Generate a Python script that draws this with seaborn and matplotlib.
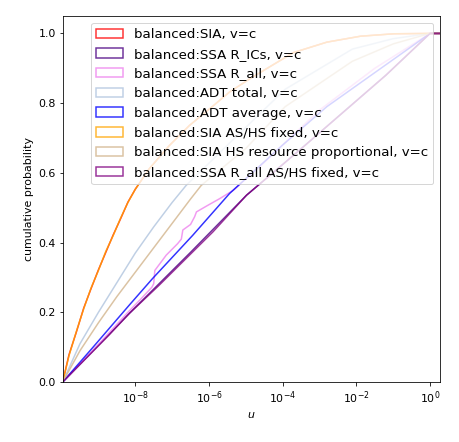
import numpy as np
import pandas as pd
import seaborn as sns
import matplotlib
matplotlib.use('Agg')
import matplotlib.pyplot as plt
from matplotlib.patches import Patch
from matplotlib.ticker import NullLocator

# series labels and colours
labels = ['balanced:SIA, v=c', 'balanced:SSA R_ICs, v=c', 'balanced:SSA R_all, v=c',
          'balanced:ADT total, v=c', 'balanced:ADT average, v=c',
          'balanced:SIA AS/HS fixed, v=c', 'balanced:SIA HS resource proportional, v=c',
          'balanced:SSA R_all AS/HS fixed, v=c']
colors = ['red', 'indigo', 'violet', 'lightsteelblue', 'blue', 'orange', 'tan', 'purple']

# values: log10(u) and cumulative probability
sia_logu = [-9.97, -9.8, -9.6, -9.4, -9.2, -9.0, -8.8, -8.6, -8.4, -8.2, -8.0, -7.62,
            -7.07, -6.53, -5.98, -5.44, -4.89, -4.34, -3.71, -2.80, -1.89, -0.98, 0.0, 0.27]
sia_p = [0.0, 0.078, 0.143, 0.212, 0.268, 0.322, 0.372, 0.422, 0.468, 0.516, 0.553, 0.612,
         0.679, 0.736, 0.784, 0.832, 0.870, 0.905, 0.945, 0.975, 0.992, 0.999, 1.0, 1.0]

ics_logu = [-9.97, -8.16, -6.50, -4.98, -3.60, -2.40, -1.20, 0.0, 0.27]
ics_p = [0.0, 0.197, 0.372, 0.536, 0.660, 0.770, 0.880, 1.0, 1.0]

rall_logu = [-9.97, -9.00, -8.20, -7.85, -7.55, -7.50, -7.47, -7.16, -6.85, -6.75, -6.71,
             -6.50, -6.39, -6.34, -6.03, -5.71, -5.34, -4.50, -3.00, -1.50, 0.0, 0.27]
rall_p = [0.0, 0.108, 0.200, 0.238, 0.272, 0.282, 0.320, 0.364, 0.397, 0.410, 0.436,
          0.452, 0.474, 0.488, 0.507, 0.526, 0.550, 0.630, 0.780, 0.900, 1.0, 1.0]

adt_tot_logu = [-9.97, -9.5, -9.0, -8.5, -8.0, -7.5, -7.0, -6.62, -5.30, -3.93, -2.11, -1.00, 0.0, 0.27]
adt_tot_p = [0.0, 0.110, 0.200, 0.285, 0.370, 0.445, 0.515, 0.564, 0.700, 0.840, 0.955, 0.985, 1.0, 1.0]

adt_avg_logu = [-9.97, -9.17, -8.16, -7.53, -6.44, -5.44, -4.00, -2.80, -1.20, 0.0, 0.27]
adt_avg_p = [0.0, 0.097, 0.221, 0.297, 0.421, 0.541, 0.680, 0.790, 0.910, 1.0, 1.0]

sia_fix_logu = [-9.97, -9.8, -9.6, -9.4, -9.2, -9.0, -8.8, -8.6, -8.4, -8.2, -8.0, -7.62,
                -7.07, -6.53, -5.98, -5.44, -4.89, -4.34, -3.71, -2.80, -1.89, -0.98, 0.0, 0.27]
sia_fix_p = [0.0, 0.075, 0.145, 0.210, 0.270, 0.320, 0.375, 0.420, 0.470, 0.515, 0.553, 0.612,
             0.679, 0.736, 0.784, 0.832, 0.870, 0.905, 0.945, 0.975, 0.992, 0.999, 1.0, 1.0]

sia_hs_logu = [-9.97, -9.5, -9.0, -8.5, -8.0, -7.5, -7.0, -6.5, -6.21, -5.00, -3.93, -2.11, -1.00, 0.0, 0.27]
sia_hs_p = [0.0, 0.090, 0.170, 0.245, 0.315, 0.385, 0.455, 0.525, 0.564, 0.670, 0.790, 0.920, 0.970, 1.0, 1.0]

rall_fix_logu = [-9.97, -8.71, -8.16, -7.35, -5.89, -4.98, -3.60, -2.40, -1.20, 0.0, 0.27]
rall_fix_p = [0.0, 0.135, 0.197, 0.278, 0.431, 0.536, 0.660, 0.770, 0.880, 1.0, 1.0]

series = [(sia_logu, sia_p), (ics_logu, ics_p), (rall_logu, rall_p),
          (adt_tot_logu, adt_tot_p), (adt_avg_logu, adt_avg_p),
          (sia_fix_logu, sia_fix_p), (sia_hs_logu, sia_hs_p),
          (rall_fix_logu, rall_fix_p)]

rows = []
for lab, (lu, p) in zip(labels, series):
    for a, b in zip(lu, p):
        rows.append({'u': 10.0 ** a, 'p': b, 'label': lab})
df = pd.DataFrame(rows)

fig = plt.figure(figsize=(459 / 72, 442 / 72), dpi=72)
ax = fig.add_axes([0.1366, 0.1357, 0.8220, 0.8281])

sns.lineplot(data=df, x='u', y='p', hue='label', hue_order=labels,
             palette=colors, estimator=None, sort=False, alpha=0.8,
             linewidth=1.5, legend=False, ax=ax)

ax.set_xscale('log')
ax.set_xlim(10 ** -9.97, 10 ** 0.27)
ax.set_ylim(0, 1.05)
ax.set_xticks([1e-8, 1e-6, 1e-4, 1e-2, 1])
ax.xaxis.set_minor_locator(NullLocator())
ax.set_yticks([0, 0.2, 0.4, 0.6, 0.8, 1.0])
ax.tick_params(labelsize=11)
ax.set_xlabel('$u$', fontsize=11)
ax.set_ylabel('cumulative probability', fontsize=11)

handles = [Patch(facecolor='none', edgecolor=c, alpha=0.8, linewidth=1.5) for c in colors]
ax.legend(handles, labels, loc='upper right', fontsize=13.4)

fig.savefig('out.png', dpi=72)
